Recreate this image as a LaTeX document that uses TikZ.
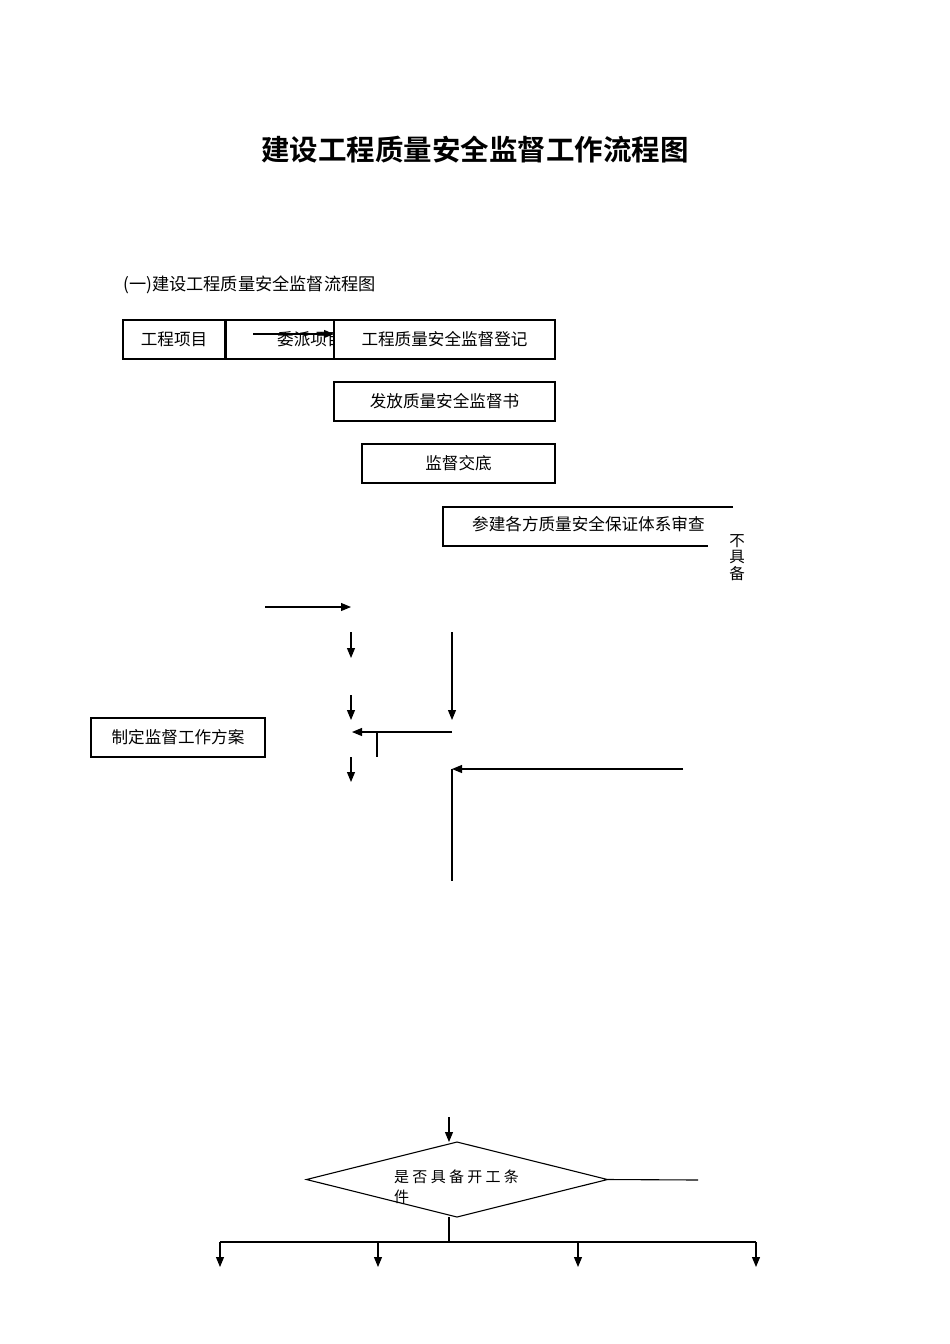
\documentclass[tikz,border=0pt]{standalone}
\usepackage{fontspec}
\usetikzlibrary{arrows.meta,shapes.geometric}
\newfontfamily\cjk{Noto Sans CJK SC}
\newfontfamily\cjkbold{Noto Sans CJK SC Bold}
\newfontfamily\cjksp[LetterSpace=22]{Noto Sans CJK SC}
\tikzset{
  ln/.style={line width=1.1pt, draw=black},
  arr/.style={ln, -{Triangle[length=10pt,width=8pt]}},
  boxnode/.style={ln, rectangle, inner sep=0pt, outer sep=0pt, fill=white, anchor=north west, font=\cjk\fontsize{16.6}{19}\selectfont},
  lbl/.style={inner sep=0pt, font=\cjk\fontsize{16.6}{19}\selectfont}
}
\begin{document}
\begin{tikzpicture}[x=1pt,y=-1pt]
\useasboundingbox[fill=white] (0,0) rectangle (950,1344);
% title
\node[inner sep=0pt, font=\cjkbold\fontsize{28.5}{32}\selectfont] (title) at (475,150) {建设工程质量安全监督工作流程图};
\node[lbl, anchor=west, font=\cjk\fontsize{17.2}{19}\selectfont] (sub) at (123,285) {(一)建设工程质量安全监督流程图};
% top row
\node[boxnode, minimum width=102pt, minimum height=39pt] (proj) at (123,320) {工程项目};
\node[boxnode, minimum width=109pt, minimum height=39pt] (weipai) at (226,320) {};
\node[lbl, anchor=west] (weipaitxt) at (277,339.5) {委派项目};
\coordinate (a1s) at (253,334);
\node[boxnode, minimum width=221pt, minimum height=39pt] (reg) at (334,320) {工程质量安全监督登记};
\draw[arr] (a1s) -- (a1s -| reg.west);
\node[boxnode, minimum width=221pt, minimum height=39pt] (issue) at (334,382) {发放质量安全监督书};
\node[boxnode, minimum width=193pt, minimum height=39pt] (brief) at (362,444) {监督交底};
% open box
\coordinate (ob1) at (733,507);
\coordinate (ob2) at (443,507);
\coordinate (ob3) at (443,546);
\coordinate (ob4) at (708,546);
\draw[ln] (ob1) -- (ob2) -- (ob3) -- (ob4);
\node[lbl, anchor=west] (review) at (472,524.5) {参建各方质量安全保证体系审查};
\node[inner sep=0pt, font=\cjk\fontsize{15.5}{16.5}\selectfont, align=center, anchor=north] (nob) at (737,534) {不\\具\\备};
% middle arrows
\coordinate (h1a) at (265,607); \coordinate (h1b) at (351,607);
\draw[arr] (h1a) -- (h1b);
\coordinate (v1a) at (351,632); \coordinate (v1b) at (351,658);
\draw[arr] (v1a) -- (v1b);
\coordinate (v2a) at (452,632); \coordinate (v2b) at (452,720);
\draw[arr] (v2a) -- (v2b);
\coordinate (v3a) at (351,695); \coordinate (v3b) at (351,720);
\draw[arr] (v3a) -- (v3b);
\node[boxnode, minimum width=174pt, minimum height=39pt] (plan) at (91,718) {制定监督工作方案};
\coordinate (h2a) at (452,732); \coordinate (h2b) at (352,732);
\draw[arr] (h2a) -- (h2b);
\coordinate (t1) at (377,732); \coordinate (t2) at (377,757);
\draw[ln] (t1) -- (t2);
\coordinate (v4a) at (351,757); \coordinate (v4b) at (351,782);
\draw[arr] (v4a) -- (v4b);
\coordinate (h3a) at (683,769); \coordinate (h3b) at (452,769); \coordinate (h3c) at (452,881);
\draw[arr] (h3a) -- (h3b);
\draw[ln] (h3b) -- (h3c);
% diamond
\coordinate (v5a) at (449,1117);
\node[ln, diamond, minimum width=301pt, minimum height=75pt, inner sep=0pt, outer sep=0pt] (dec) at (457,1179.5) {};
\draw[arr] (v5a) -- (v5a |- dec.north);
\node[inner sep=0pt, anchor=north west, align=left, font=\cjksp\fontsize{15}{19.5}\selectfont] (dectxt) at (394,1170) {是否具备开工条\\件};
\coordinate (rr) at (698,1180);
\draw[ln] (dec.east) -- (rr);
\coordinate (st) at (449,1242);
\draw[ln] (st |- dec.south) -- (st);
\coordinate (b1) at (220,1242); \coordinate (b2) at (378,1242); \coordinate (b3) at (578,1242); \coordinate (b4) at (756,1242);
\draw[ln] (b1) -- (b4);
\foreach \c in {b1,b2,b3,b4}{ \draw[arr] (\c) -- ++(0,25); }
\end{tikzpicture}
\end{document}
